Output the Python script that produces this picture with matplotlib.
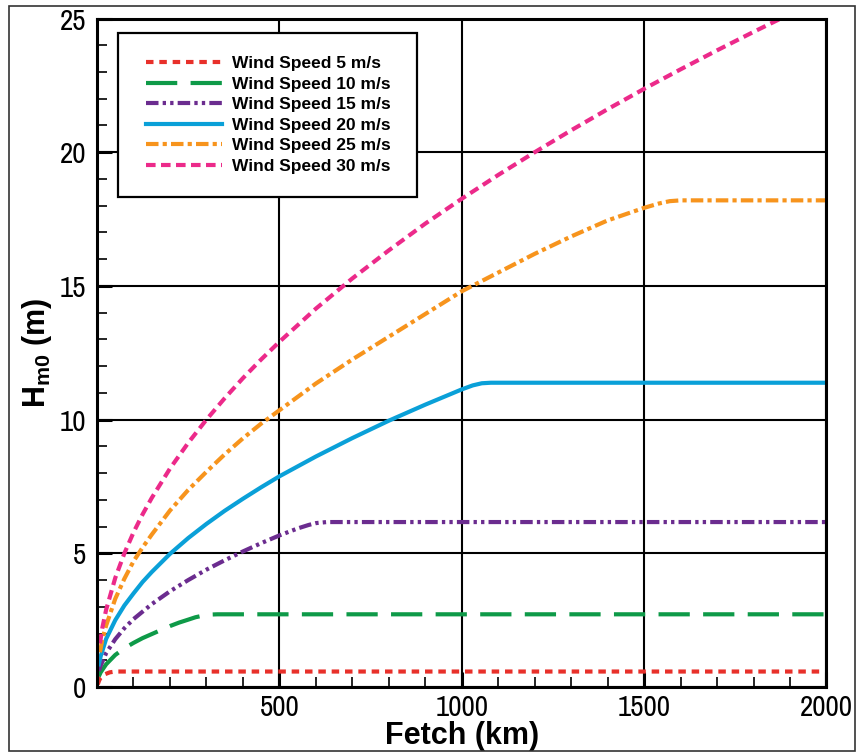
import matplotlib
matplotlib.use("Agg")
import matplotlib.pyplot as plt
from matplotlib import font_manager
from matplotlib.patches import Rectangle
from matplotlib.ticker import MultipleLocator

plt.rcParams['font.family'] = ['Liberation Sans', 'DejaVu Sans']
plt.rcParams['mathtext.fontset'] = 'custom'
plt.rcParams['mathtext.rm'] = 'Liberation Sans:bold'
plt.rcParams['mathtext.bf'] = 'Liberation Sans:bold'
plt.rcParams['mathtext.it'] = 'Liberation Sans:bold'

# values (fetch in km, Hm0 in m)
fetch_5 = [2, 6, 10, 20, 35, 50, 2000]
hm0_5 = [0.1, 0.25, 0.35, 0.47, 0.55, 0.58, 0.58]

fetch_10 = [5, 10, 25, 50, 75, 100, 125, 150, 175, 200, 225, 250, 270, 290, 310, 330, 2000]
hm0_10 = [0.4, 0.55, 0.85, 1.2, 1.45, 1.65, 1.83, 1.98, 2.13, 2.28, 2.41, 2.52, 2.61, 2.67, 2.71, 2.72, 2.72]

fetch_15 = [5, 10, 25, 50, 75, 100, 150, 200, 250, 300, 350, 400, 450, 500, 550, 580, 600, 630, 2000]
hm0_15 = [0.6, 0.8, 1.27, 1.79, 2.2, 2.54, 3.1, 3.58, 4.0, 4.39, 4.74, 5.07, 5.38, 5.67, 5.93, 6.06, 6.13, 6.17, 6.17]

fetch_20 = [5, 10, 25, 50, 75, 100, 125, 150, 200, 250, 300, 350, 400, 450, 500, 600, 700, 800, 900, 1000, 1030, 1055, 1080, 2000]
hm0_20 = [0.85, 1.15, 1.8, 2.5, 3.05, 3.5, 3.93, 4.3, 4.98, 5.57, 6.1, 6.59, 7.04, 7.47, 7.88, 8.62, 9.31, 9.96, 10.56, 11.13, 11.28, 11.36, 11.38, 11.38]

fetch_25 = [8, 15, 25, 50, 75, 100, 125, 150, 200, 250, 300, 350, 400, 450, 500, 600, 700, 800, 900, 1000, 1100, 1200, 1300, 1400, 1500, 1540, 1570, 1600, 2000]
hm0_25 = [1.3, 1.8, 2.3, 3.3, 4.05, 4.7, 5.22, 5.7, 6.6, 7.37, 8.05, 8.7, 9.3, 9.85, 10.35, 11.35, 12.25, 13.1, 13.95, 14.8, 15.5, 16.2, 16.85, 17.45, 17.92, 18.08, 18.17, 18.2, 18.2]

fetch_30 = [8, 15, 25, 50, 75, 100, 125, 150, 200, 250, 300, 350, 400, 450, 500, 600, 700, 800, 900, 1000, 1100, 1200, 1300, 1400, 1500, 1600, 1700, 1800, 1900, 2000]
hm0_30 = [1.63, 2.24, 2.89, 4.08, 5.0, 5.78, 6.46, 7.07, 8.17, 9.13, 10.0, 10.8, 11.55, 12.25, 12.91, 14.15, 15.28, 16.33, 17.33, 18.26, 19.15, 20.0, 20.82, 21.61, 22.37, 23.1, 23.81, 24.5, 25.17, 25.83]

labels = ['Wind Speed 5 m/s', 'Wind Speed 10 m/s', 'Wind Speed 15 m/s',
          'Wind Speed 20 m/s', 'Wind Speed 25 m/s', 'Wind Speed 30 m/s']

# narrow font for the tick numbers, if one is installed
tick_font = {'family': 'Liberation Sans'}
fonts = font_manager.fontManager.ttflist
narrow = [f.name for f in fonts if 'Narrow' in f.name]
if narrow:
    tick_font = {'family': narrow[0]}
elif any(f.name == 'DejaVu Sans' and f.stretch == 'condensed' for f in fonts):
    tick_font = {'family': 'DejaVu Sans', 'stretch': 'condensed'}

fig = plt.figure(figsize=(8.57, 7.53), dpi=100)
ax = fig.add_axes([0.1132, 0.0876, 0.8512, 0.8878])

lw = 3
ax.plot(fetch_5, hm0_5, color='#E8302A', lw=lw, dashes=(1.8, 1.4), label=labels[0])
ax.plot(fetch_10, hm0_10, color='#0E9A48', lw=lw, dashes=(7.5, 3.2), label=labels[1])
ax.plot(fetch_15, hm0_15, color='#6B2C8F', lw=lw, dashes=(3, 1, 0.8, 1, 0.8, 1), label=labels[2])
ax.plot(fetch_20, hm0_20, color='#0AA0D8', lw=lw, label=labels[3])
ax.plot(fetch_25, hm0_25, color='#F7941D', lw=lw, dashes=(3, 1, 1, 1), label=labels[4])
ax.plot(fetch_30, hm0_30, color='#EC2A8A', lw=lw, dashes=(2.3, 1.3), label=labels[5])

ax.set_xlim(0, 2000)
ax.set_ylim(0, 25)
ax.xaxis.set_major_locator(MultipleLocator(500))
ax.xaxis.set_minor_locator(MultipleLocator(100))
ax.yaxis.set_major_locator(MultipleLocator(5))
ax.yaxis.set_minor_locator(MultipleLocator(1))
ax.set_xticks([500, 1000, 1500, 2000])
ax.grid(True, which='major', color='black', lw=1.5)
ax.set_axisbelow(True)
ax.tick_params(which='major', direction='in', length=11, width=2.2, labelsize=21, pad=8)
ax.tick_params(axis='x', which='major', pad=5)
ax.tick_params(which='minor', direction='in', length=7, width=1.2)
for s in ax.spines.values():
    s.set_linewidth(2.2)
for t in ax.get_xticklabels() + ax.get_yticklabels():
    t.set(**tick_font)

ax.set_xlabel('Fetch (km)', fontsize=22, fontweight='bold', labelpad=0)
ax.set_ylabel(r'$\mathbf{H_{m0}}$ (m)', fontsize=22, fontweight='bold', labelpad=4)

# legend box
ax.add_patch(Rectangle((0.029, 0.733), 0.41, 0.246, transform=ax.transAxes,
                       facecolor='white', edgecolor='black', lw=1.6, zorder=4))
leg = ax.legend(loc='upper left', bbox_to_anchor=(0.067, 0.944), frameon=False,
                borderpad=0, borderaxespad=0, handlelength=4.4, handletextpad=0.55,
                labelspacing=0.31, prop={'weight': 'bold', 'size': 12.5})
leg.set_zorder(5)

fig.patches.append(Rectangle((9 / 857, 2 / 753), 846 / 857, 745 / 753, transform=fig.transFigure,
                             fill=False, edgecolor='#333333', lw=1.2))

fig.savefig('out.png', dpi=100)
